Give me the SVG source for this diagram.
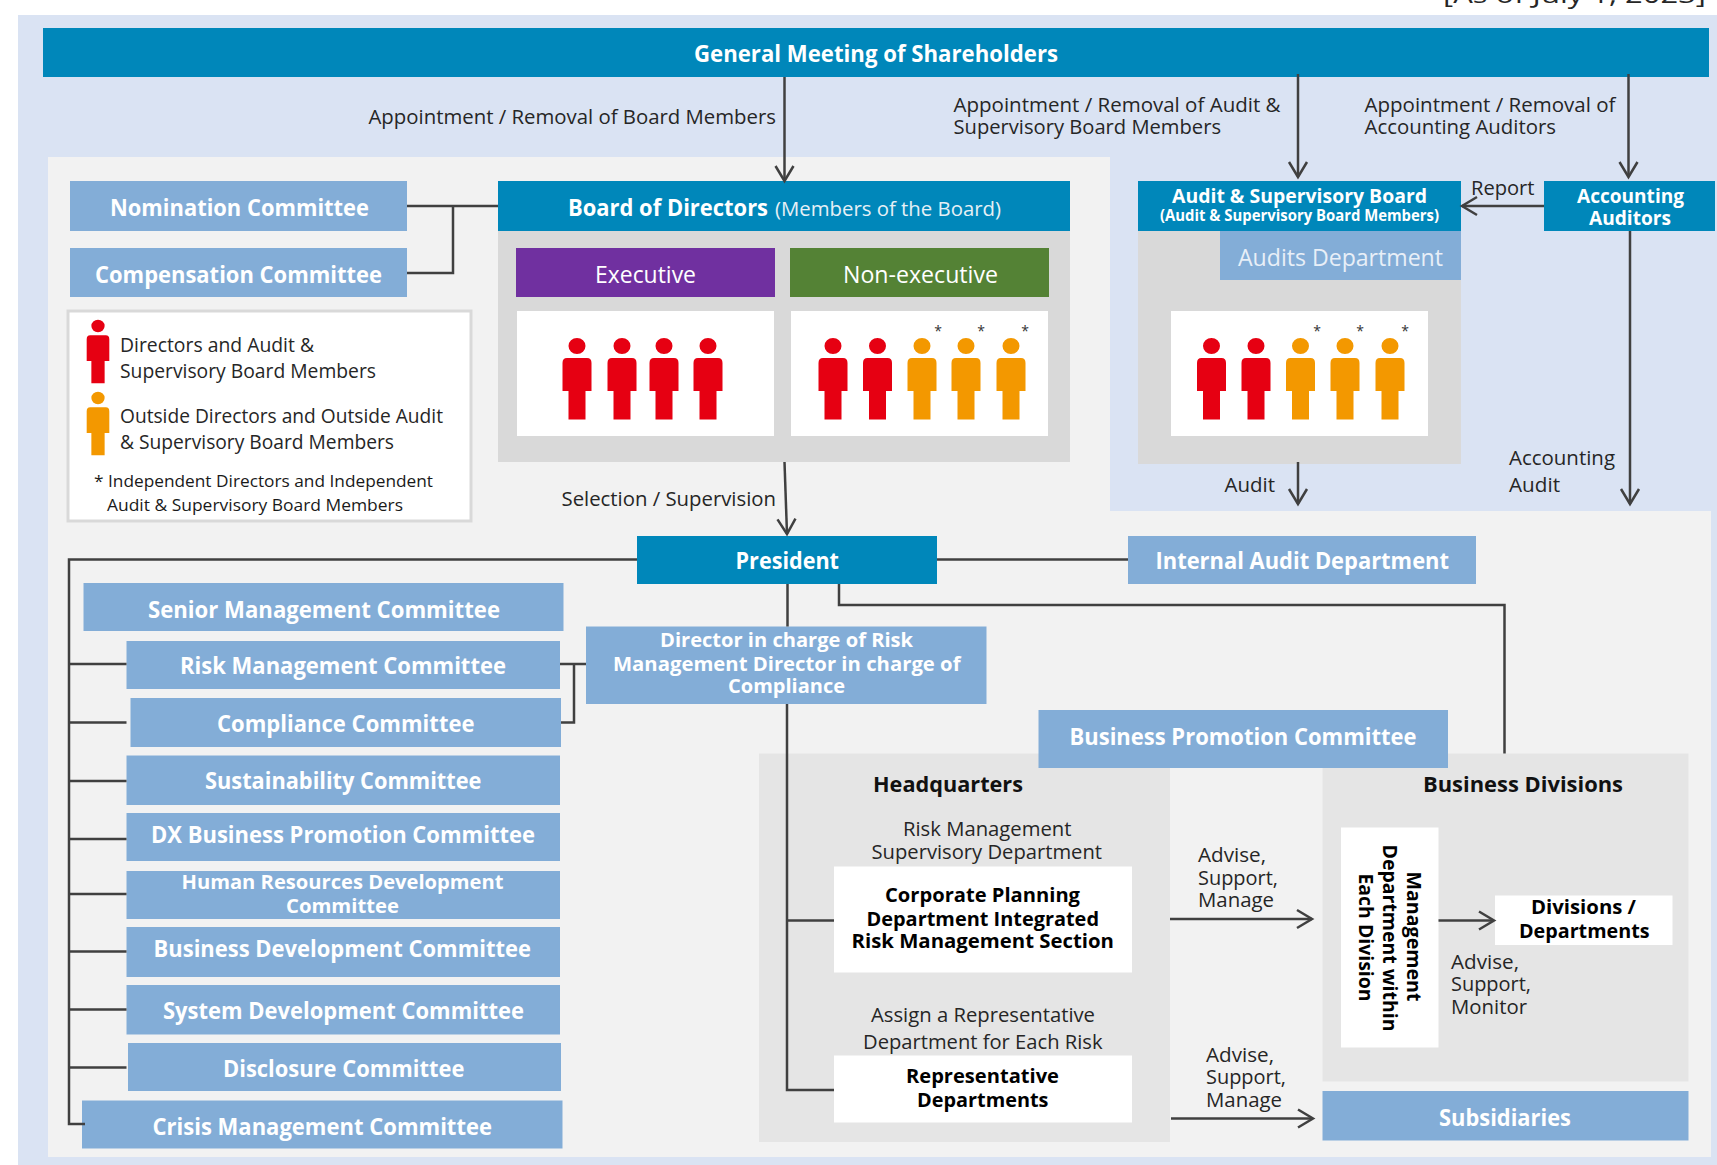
<svg xmlns="http://www.w3.org/2000/svg" xmlns:xlink="http://www.w3.org/1999/xlink" width="1717" height="1165" viewBox="0 0 1717 1165">
<style>
text{font-family:"Open Sans","Noto Sans","Liberation Sans",sans-serif;white-space:pre}
.h{font-size:23px;font-weight:700;fill:#fff}
.s{font-size:20px;font-weight:700;fill:#fff}
.l{font-size:20px;fill:#262626}
.k{font-size:20px;font-weight:700;fill:#000}
.w{font-size:23px;fill:#fff}
.n{font-size:17px;fill:#1a1a1a}
.blue{fill:#0087ba}.mid{fill:#83add7}.pan{fill:#d9d9d9}.pal{fill:#e5e5e5}.wht{fill:#fff}
.red{fill:#e60012}.org{fill:#f39800}
.c{fill:none;stroke:#404040;stroke-width:2.5}
.a{marker-end:url(#arrow)}
</style>
<defs>
<marker id="arrow" markerUnits="userSpaceOnUse" markerWidth="26" markerHeight="26" viewBox="0 0 26 26" refX="20" refY="13" orient="auto">
<path d="M5 4 L20 13 L5 22" fill="none" stroke="#404040" stroke-width="2.5"/>
</marker>
<path id="person" d="M-8.5 0a8.5 8 0 1 0 17 0a8.5 8 0 1 0-17 0zM-10 12H10Q14.500 12 14.500 17V45H8.500V73.500H-8.500V45H-14.500V17Q-14.500 12-10 12z"/>
</defs>

<g id="background">
<rect x="18" y="15" width="1699" height="1150" fill="#dae3f3"/>
<path d="M48 157H1110V511H1711V1157H48z" fill="#f2f2f2"/>
</g>

<text id="date" x="1443" y="3" font-size="24" fill="#262626" textLength="263" lengthAdjust="spacingAndGlyphs">[As of July 1, 2023]</text>

<g id="shareholders"><rect class="blue" x="43" y="28" width="1666" height="49"/><text class="h" x="694" y="62" textLength="364" lengthAdjust="spacingAndGlyphs">General Meeting of Shareholders</text></g>
<g id="nomination"><rect class="mid" x="70" y="181" width="337" height="50"/><text class="h" x="110" y="216" textLength="259" lengthAdjust="spacingAndGlyphs">Nomination Committee</text></g>
<g id="compensation"><rect class="mid" x="70" y="248" width="337" height="49"/><text class="h" x="95" y="283" textLength="287" lengthAdjust="spacingAndGlyphs">Compensation Committee</text></g>

<g id="legend">
<rect x="68" y="311" width="403" height="210" fill="#fff" stroke="#d9d9d9" stroke-width="3"/>
<use href="#person" class="red" transform="translate(98 326) scale(.78)"/>
<use href="#person" class="org" transform="translate(98 398) scale(.78)"/>
<text class="l" x="120" y="352" textLength="194" lengthAdjust="spacingAndGlyphs">Directors and Audit &amp;</text>
<text class="l" x="120" y="378" textLength="256" lengthAdjust="spacingAndGlyphs">Supervisory Board Members</text>
<text class="l" x="120" y="423" textLength="323" lengthAdjust="spacingAndGlyphs">Outside Directors and Outside Audit</text>
<text class="l" x="120" y="449" textLength="274" lengthAdjust="spacingAndGlyphs">&amp; Supervisory Board Members</text>
<text class="n" x="94" y="487" textLength="339" lengthAdjust="spacingAndGlyphs">* Independent Directors and Independent</text>
<text class="n" x="107" y="511" textLength="296" lengthAdjust="spacingAndGlyphs">Audit &amp; Supervisory Board Members</text>
</g>

<g id="board">
<rect class="pan" x="498" y="231" width="572" height="231"/>
<rect class="blue" x="498" y="181" width="572" height="50"/>
<text class="h" x="568" y="216" textLength="200" lengthAdjust="spacingAndGlyphs">Board of Directors</text>
<text x="775" y="216" font-size="20" fill="#e6f0f6" textLength="226" lengthAdjust="spacingAndGlyphs">(Members of the Board)</text>
</g>
<g id="executive">
<rect x="516" y="248" width="259" height="49" fill="#7030a0"/>
<text class="w" x="595" y="283" textLength="101" lengthAdjust="spacingAndGlyphs">Executive</text>
<rect class="wht" x="517" y="311" width="257" height="125"/>
<use href="#person" class="red" x="577" y="346"/><use href="#person" class="red" x="622" y="346"/><use href="#person" class="red" x="664" y="346"/><use href="#person" class="red" x="708" y="346"/>
</g>
<g id="non-executive">
<rect x="790" y="248" width="259" height="49" fill="#548235"/>
<text class="w" x="843" y="283" textLength="155" lengthAdjust="spacingAndGlyphs">Non-executive</text>
<rect class="wht" x="791" y="311" width="257" height="125"/>
<use href="#person" class="red" x="833" y="346"/><use href="#person" class="red" x="877.500" y="346"/><use href="#person" class="org" x="922" y="346"/><use href="#person" class="org" x="966" y="346"/><use href="#person" class="org" x="1011" y="346"/>
<text x="938" y="336" font-size="14" fill="#333" text-anchor="middle">*</text><text x="981" y="336" font-size="14" fill="#333" text-anchor="middle">*</text><text x="1025" y="336" font-size="14" fill="#333" text-anchor="middle">*</text>
</g>

<g id="audit-board">
<rect class="pan" x="1138" y="231" width="323" height="233"/>
<rect class="blue" x="1138" y="181" width="323" height="50"/>
<text class="s" x="1172" y="203" textLength="255" lengthAdjust="spacingAndGlyphs">Audit &amp; Supervisory Board</text>
<text x="1160" y="221" font-size="15.500" font-weight="700" fill="#fff" textLength="279" lengthAdjust="spacingAndGlyphs">(Audit &amp; Supervisory Board Members)</text>
<rect class="wht" x="1171" y="311" width="257" height="125"/>
<use href="#person" class="red" x="1211.500" y="346"/><use href="#person" class="red" x="1256" y="346"/><use href="#person" class="org" x="1300.500" y="346"/><use href="#person" class="org" x="1345" y="346"/><use href="#person" class="org" x="1390" y="346"/>
<text x="1317" y="336" font-size="14" fill="#333" text-anchor="middle">*</text><text x="1360" y="336" font-size="14" fill="#333" text-anchor="middle">*</text><text x="1405" y="336" font-size="14" fill="#333" text-anchor="middle">*</text>
</g>
<g id="audits-department"><rect class="mid" x="1220" y="231" width="241" height="49"/><text x="1238" y="266" font-size="23" fill="#e8eff7" textLength="205" lengthAdjust="spacingAndGlyphs">Audits Department</text></g>
<g id="accounting-auditors"><rect class="blue" x="1544" y="181" width="171" height="50"/><text class="s" x="1577" y="203" textLength="107" lengthAdjust="spacingAndGlyphs">Accounting</text><text class="s" x="1589" y="225" textLength="82" lengthAdjust="spacingAndGlyphs">Auditors</text></g>

<g id="president"><rect class="blue" x="637" y="536" width="300" height="48"/><text class="h" x="735.500" y="569" textLength="103.500" lengthAdjust="spacingAndGlyphs">President</text></g>
<g id="internal-audit"><rect class="mid" x="1128" y="536" width="348" height="48"/><text class="h" x="1155.500" y="569" textLength="293.500" lengthAdjust="spacingAndGlyphs">Internal Audit Department</text></g>

<g id="senior"><rect class="mid" x="83.500" y="583" width="480" height="48"/><text class="h" x="148" y="617.500" textLength="352" lengthAdjust="spacingAndGlyphs">Senior Management Committee</text></g>
<g id="risk"><rect class="mid" x="126.500" y="641" width="433.500" height="48"/><text class="h" x="180" y="674" textLength="326" lengthAdjust="spacingAndGlyphs">Risk Management Committee</text></g>
<g id="compliance"><rect class="mid" x="130.500" y="698" width="430.500" height="49"/><text class="h" x="217" y="731.500" textLength="257.500" lengthAdjust="spacingAndGlyphs">Compliance Committee</text></g>
<g id="sustainability"><rect class="mid" x="126.500" y="755.500" width="433.500" height="49.500"/><text class="h" x="205" y="789" textLength="276.500" lengthAdjust="spacingAndGlyphs">Sustainability Committee</text></g>
<g id="dx"><rect class="mid" x="126.500" y="813" width="433.500" height="48"/><text class="h" x="151" y="843" textLength="384" lengthAdjust="spacingAndGlyphs">DX Business Promotion Committee</text></g>
<g id="hr"><rect class="mid" x="126.500" y="871" width="433.500" height="48"/><text class="s" x="181.500" y="889" textLength="322" lengthAdjust="spacingAndGlyphs">Human Resources Development</text><text class="s" x="286" y="913" textLength="113" lengthAdjust="spacingAndGlyphs">Committee</text></g>
<g id="business-development"><rect class="mid" x="126.500" y="927" width="433.500" height="50"/><text class="h" x="153.500" y="957" textLength="377.500" lengthAdjust="spacingAndGlyphs">Business Development Committee</text></g>
<g id="system-development"><rect class="mid" x="126.500" y="985" width="433.500" height="49.500"/><text class="h" x="163" y="1019" textLength="361" lengthAdjust="spacingAndGlyphs">System Development Committee</text></g>
<g id="disclosure"><rect class="mid" x="128" y="1043" width="433" height="48"/><text class="h" x="223" y="1077" textLength="241.500" lengthAdjust="spacingAndGlyphs">Disclosure Committee</text></g>
<g id="crisis"><rect class="mid" x="82" y="1100.500" width="480.500" height="48"/><text class="h" x="152.500" y="1135" textLength="339.500" lengthAdjust="spacingAndGlyphs">Crisis Management Committee</text></g>

<g id="director-risk"><rect class="mid" x="586" y="626.500" width="400.500" height="77.500"/>
<text class="s" x="660" y="646.500" textLength="253" lengthAdjust="spacingAndGlyphs">Director in charge of Risk</text>
<text class="s" x="613" y="670.500" textLength="347.500" lengthAdjust="spacingAndGlyphs">Management Director in charge of</text>
<text class="s" x="728" y="693" textLength="117" lengthAdjust="spacingAndGlyphs">Compliance</text></g>

<g id="headquarters">
<rect class="pal" x="759" y="753.500" width="411" height="388.500"/>
<text x="873" y="792" font-size="22" font-weight="700" fill="#111" textLength="150" lengthAdjust="spacingAndGlyphs">Headquarters</text>
<text class="l" x="903" y="836" textLength="168.500" lengthAdjust="spacingAndGlyphs">Risk Management</text>
<text class="l" x="871.500" y="859" textLength="230.500" lengthAdjust="spacingAndGlyphs">Supervisory Department</text>
<text class="l" x="871" y="1022" textLength="224" lengthAdjust="spacingAndGlyphs">Assign a Representative</text>
<text class="l" x="863" y="1048.500" textLength="239.500" lengthAdjust="spacingAndGlyphs">Department for Each Risk</text>
</g>
<g id="corporate-planning"><rect class="wht" x="834" y="866.500" width="298" height="106"/>
<text class="k" x="885" y="901.500" textLength="195" lengthAdjust="spacingAndGlyphs">Corporate Planning</text>
<text class="k" x="866.500" y="926" textLength="232.500" lengthAdjust="spacingAndGlyphs">Department Integrated</text>
<text class="k" x="851.500" y="948" textLength="262.500" lengthAdjust="spacingAndGlyphs">Risk Management Section</text></g>
<g id="representative"><rect class="wht" x="834" y="1055.500" width="298" height="67"/>
<text class="k" x="906" y="1082.500" textLength="153" lengthAdjust="spacingAndGlyphs">Representative</text>
<text class="k" x="917" y="1107" textLength="131.500" lengthAdjust="spacingAndGlyphs">Departments</text></g>

<g id="business-divisions">
<rect class="pal" x="1322.500" y="753.500" width="366" height="328"/>
<text x="1423" y="792" font-size="22" font-weight="700" fill="#111" textLength="200" lengthAdjust="spacingAndGlyphs">Business Divisions</text>
<text class="l" x="1451" y="968.500" textLength="68" lengthAdjust="spacingAndGlyphs">Advise,</text>
<text class="l" x="1451" y="990.500" textLength="80" lengthAdjust="spacingAndGlyphs">Support,</text>
<text class="l" x="1451" y="1014" textLength="76" lengthAdjust="spacingAndGlyphs">Monitor</text>
</g>
<g id="management-department"><rect class="wht" x="1341" y="827.500" width="97.500" height="220"/>
<text class="k" transform="translate(1407 871.500) rotate(90)" textLength="130" lengthAdjust="spacingAndGlyphs">Management</text>
<text class="k" transform="translate(1382.500 844.500) rotate(90)" textLength="187" lengthAdjust="spacingAndGlyphs">Department within</text>
<text class="k" transform="translate(1359 873.500) rotate(90)" textLength="128" lengthAdjust="spacingAndGlyphs">Each Division</text></g>
<g id="divisions"><rect class="wht" x="1495" y="895.500" width="177.500" height="49.500"/>
<text class="k" x="1531" y="914" textLength="105" lengthAdjust="spacingAndGlyphs">Divisions /</text>
<text class="k" x="1519" y="937.500" textLength="130.500" lengthAdjust="spacingAndGlyphs">Departments</text></g>
<g id="business-promotion"><rect class="mid" x="1038.500" y="710" width="409.500" height="58"/><text class="h" x="1069.500" y="744.500" textLength="347" lengthAdjust="spacingAndGlyphs">Business Promotion Committee</text></g>
<g id="subsidiaries"><rect class="mid" x="1322.500" y="1091" width="366" height="49.500"/><text class="h" x="1439" y="1126" textLength="132" lengthAdjust="spacingAndGlyphs">Subsidiaries</text></g>

<g id="connector-labels">
<text class="l" x="368.500" y="124" textLength="407.500" lengthAdjust="spacingAndGlyphs">Appointment / Removal of Board Members</text>
<text class="l" x="953.500" y="111.500" textLength="327" lengthAdjust="spacingAndGlyphs">Appointment / Removal of Audit &amp;</text>
<text class="l" x="953.500" y="133.500" textLength="267.500" lengthAdjust="spacingAndGlyphs">Supervisory Board Members</text>
<text class="l" x="1364.500" y="111.500" textLength="251" lengthAdjust="spacingAndGlyphs">Appointment / Removal of</text>
<text class="l" x="1364.500" y="133.500" textLength="191.500" lengthAdjust="spacingAndGlyphs">Accounting Auditors</text>
<text class="l" x="1471" y="194.500" textLength="63.500" lengthAdjust="spacingAndGlyphs">Report</text>
<text class="l" x="1224.500" y="492" textLength="50.500" lengthAdjust="spacingAndGlyphs">Audit</text>
<text class="l" x="1509" y="465" textLength="106" lengthAdjust="spacingAndGlyphs">Accounting</text>
<text class="l" x="1509" y="492" textLength="51" lengthAdjust="spacingAndGlyphs">Audit</text>
<text class="l" x="561.500" y="505.500" textLength="214.500" lengthAdjust="spacingAndGlyphs">Selection / Supervision</text>
<text class="l" x="1198" y="862" textLength="68" lengthAdjust="spacingAndGlyphs">Advise,</text>
<text class="l" x="1198" y="884.500" textLength="80" lengthAdjust="spacingAndGlyphs">Support,</text>
<text class="l" x="1198" y="906.500" textLength="76" lengthAdjust="spacingAndGlyphs">Manage</text>
<text class="l" x="1206" y="1061.500" textLength="68" lengthAdjust="spacingAndGlyphs">Advise,</text>
<text class="l" x="1206" y="1084" textLength="80" lengthAdjust="spacingAndGlyphs">Support,</text>
<text class="l" x="1206" y="1107" textLength="76" lengthAdjust="spacingAndGlyphs">Manage</text>
</g>

<g id="connectors">
<path class="c a" d="M784.500 77V181"/>
<path class="c a" d="M1298 74V177"/>
<path class="c a" d="M1628.500 74V177"/>
<path class="c a" d="M1544 206H1462"/>
<path class="c a" d="M1630 231V504"/>
<path class="c a" d="M1298 462V504"/>
<path class="c a" d="M784.500 462L787 534"/>
<path class="c" d="M407 206H498M453 206V273H407"/>
<path class="c" d="M937 559.500H1128"/>
<path class="c" d="M637 559.500H69V1124H85"/>
<path class="c" d="M69 664H126.500M69 722.500H126.500M69 781H126.500M69 839H126.500M69 894H126.500M69 951.500H126.500M69 1009.500H126.500M69 1067.500H126.500"/>
<path class="c" d="M560 664H586M574 664V722.500H561"/>
<path class="c" d="M787.500 584V626.500M787 704V1090H834M787 920.500H834"/>
<path class="c" d="M839 584V605H1504.500V753.500"/>
<path class="c a" d="M1170 919H1312"/>
<path class="c a" d="M1171 1118.500H1313"/>
<path class="c a" d="M1438.500 920.500H1494"/>
</g>
</svg>
